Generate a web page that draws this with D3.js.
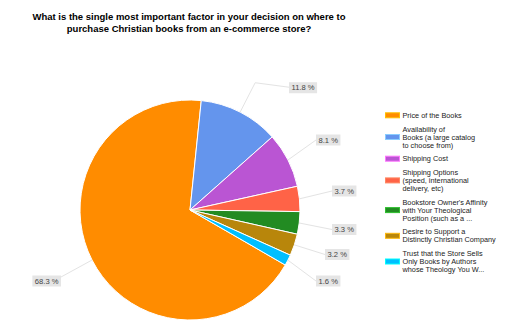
<!DOCTYPE html>
<html>
<head>
<meta charset="utf-8">
<script src="https://cdn.jsdelivr.net/npm/d3@7"></script>
<style>
  html, body { margin: 0; padding: 0; background: #fff; }
  svg { display: block; font-family: "Liberation Sans", Arial, sans-serif; }
</style>
</head>
<body>
<svg id="chart" width="520" height="336"></svg>
<script>
// Survey answers and their share of responses (percent)
const categories = [
  "Price of the Books",
  "Availability of Books (a large catalog to choose from)",
  "Shipping Cost",
  "Shipping Options (speed, international delivery, etc)",
  "Bookstore Owner's Affinity with Your Theological Position (such as a ...",
  "Desire to Support a Distinctly Christian Company",
  "Trust that the Store Sells Only Books by Authors whose Theology You W..."
];
const values = [68.3, 11.8, 8.1, 3.7, 3.3, 3.2, 1.6];
const colors = ["#ff8c00", "#6495ed", "#ba55d3", "#ff6347", "#228b22", "#b8860b", "#00bfff"];
// Legend text, wrapped as it is shown
const legendLines = [
  ["Price of the Books"],
  ["Availability of", "Books (a large catalog", "to choose from)"],
  ["Shipping Cost"],
  ["Shipping Options", "(speed, international", "delivery, etc)"],
  ["Bookstore Owner's Affinity", "with Your Theological", "Position (such as a ..."],
  ["Desire to Support a", "Distinctly Christian Company"],
  ["Trust that the Store Sells", "Only Books by Authors", "whose Theology You W..."]
];
const titleLines = [
  "What is the single most important factor in your decision on where to",
  "purchase Christian books from an e-commerce store?"
];

const svg = d3.select("#chart");
const cx = 190, cy = 210, radius = 110;

// Title
svg.append("g").selectAll("text").data(titleLines).join("text")
  .attr("x", 189).attr("y", (d, i) => 20 + i * 12)
  .attr("text-anchor", "middle")
  .attr("font-size", 9.5).attr("font-weight", "bold").attr("fill", "#000")
  .text(d => d);

// Pie
const startAngle = 120 * Math.PI / 180;
const pie = d3.pie().sort(null).value(d => d)
  .startAngle(startAngle).endAngle(startAngle + 2 * Math.PI);
const arcs = pie(values);
const arc = d3.arc().innerRadius(0).outerRadius(radius);

const g = svg.append("g").attr("transform", `translate(${cx},${cy})`);
g.selectAll("path").data(arcs).join("path")
  .attr("d", arc)
  .attr("fill", (d, i) => colors[i])
  .attr("stroke", "#fff").attr("stroke-width", 1);

// Percent labels with leader lines
const fmt = v => v.toFixed(1) + " %";
const pt = (a, r) => [Math.sin(a) * r, -Math.cos(a) * r];
// label anchor (left or right edge of box, vertical centre), relative to pie centre
const labelPos = [
  { x: 61 - cx, y: 281 - cy, side: "left" },
  { x: 289 - cx, y: 88 - cy, side: "right", elbow: 143 },
  { x: 316 - cx, y: 140 - cy, side: "right" },
  { x: 332 - cx, y: 191 - cy, side: "right" },
  { x: 332 - cx, y: 229.5 - cy, side: "right" },
  { x: 325 - cx, y: 254.5 - cy, side: "right" },
  { x: 316 - cx, y: 281 - cy, side: "right" }
];

const lab = g.append("g");
arcs.forEach((d, i) => {
  const mid = (d.startAngle + d.endAngle) / 2;
  const p0 = pt(mid, radius);
  const L = labelPos[i];
  const pts = [p0];
  if (L.elbow) {
    const e = pt(mid, L.elbow);
    pts.push(e);
    pts.push([L.x, e[1] + 4.5]);
    L.y = e[1] + 5;
  } else {
    pts.push([L.x, L.y - (L.side === "left" ? 4 : 0)]);
  }
  lab.append("path")
    .attr("d", d3.line()(pts))
    .attr("fill", "none").attr("stroke", "#e3e3e3").attr("stroke-width", 1);

  const t = lab.append("text")
    .attr("font-size", 7.6).attr("fill", "#444")
    .attr("dominant-baseline", "central")
    .text(fmt(values[i]));
  const w = t.node().getComputedTextLength();
  const bx = L.side === "left" ? L.x - w - 5 : L.x;
  t.attr("x", bx + 2.5).attr("y", L.y);
  lab.insert("rect", () => t.node())
    .attr("x", bx).attr("y", L.y - 5.5)
    .attr("width", w + 5).attr("height", 11)
    .attr("fill", "#e5e5e5");
});

// Legend
const legend = svg.append("g");
const lineH = 8, gap = 5.7;
let y = 115.3;
legendLines.forEach((lines, i) => {
  const n = lines.length;
  const centre = y + (n - 1) * lineH / 2;
  legend.append("rect")
    .attr("x", 385.5).attr("y", centre - 2.5)
    .attr("width", 14).attr("height", 5)
    .attr("fill", colors[i])
    .attr("stroke", d3.color(colors[i]).brighter(0.9)).attr("stroke-width", 1);
  lines.forEach((s, j) => {
    legend.append("text")
      .attr("x", 402.5).attr("y", y + j * lineH)
      .attr("dominant-baseline", "central")
      .attr("font-size", 7.3).attr("fill", "#222")
      .text(s);
  });
  y += n * lineH + gap;
});
</script>
</body>
</html>
